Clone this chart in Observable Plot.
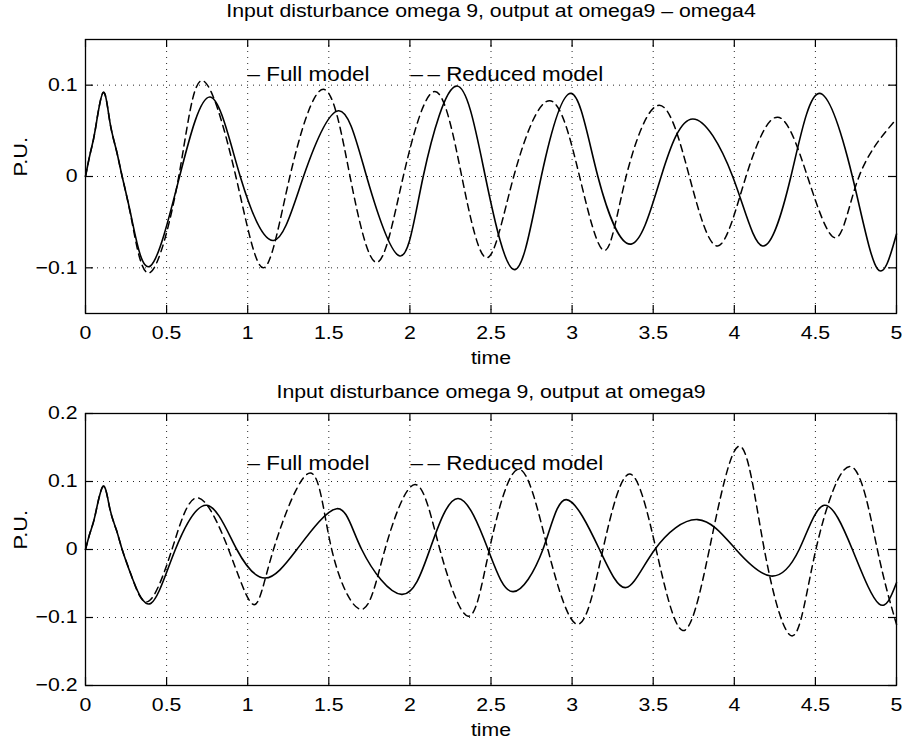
<!DOCTYPE html>
<html>
<head>
<meta charset="utf-8">
<script src="https://cdn.jsdelivr.net/npm/d3@7"></script>
<script src="https://cdn.jsdelivr.net/npm/@observablehq/plot@0.6"></script>
<style>
  html, body { margin: 0; padding: 0; background: #fff; }
  #wrap { width: 902px; height: 740px; position: relative; overflow: hidden; }
  #wrap svg { display: block; }
</style>
</head>
<body>
<div id="wrap"></div>
<script>
// ---------- data ----------
const titleTop = "Input disturbance omega 9, output at omega9 \u2013 omega4";
const titleBottom = "Input disturbance omega 9, output at omega9";
const xLabel = "time";
const yLabel = "P.U.";
const legendFull = "\u2013 Full model";
const legendReduced = "\u2013\u2009\u2013 Reduced model";

const xTicks = [0, 0.5, 1, 1.5, 2, 2.5, 3, 3.5, 4, 4.5, 5];
const yTicksTop = [-0.1, 0, 0.1];
const yTicksBottom = [-0.2, -0.1, 0, 0.1, 0.2];

// top panel: output at omega9 - omega4
const topFullT = [0, 0.03, 0.06, 0.109, 0.15, 0.19, 0.226, 0.287, 0.40, 0.58, 0.769, 0.954, 1.159, 1.344, 1.559, 1.733, 1.938, 2.082, 2.287, 2.465, 2.646, 2.81, 2.995, 3.159, 3.364, 3.549, 3.744, 3.99, 4.174, 4.349, 4.523, 4.728, 4.882, 5.0];
const topFullY = [0, 0.026, 0.051, 0.092, 0.060, 0.029, 0, -0.048, -0.098, 0, 0.087, 0, -0.070, 0, 0.072, 0, -0.087, 0, 0.099, 0, -0.102, 0, 0.091, 0, -0.074, 0, 0.063, 0, -0.076, 0, 0.091, 0, -0.101, -0.063];
const topRedT = [0, 0.03, 0.06, 0.109, 0.15, 0.19, 0.226, 0.287, 0.40, 0.575, 0.718, 0.927, 1.097, 1.26, 1.467, 1.631, 1.795, 1.959, 2.154, 2.32, 2.475, 2.64, 2.862, 3.046, 3.2, 3.333, 3.538, 3.723, 3.897, 4.072, 4.267, 4.451, 4.626, 4.769, 5.0];
const topRedY = [0, 0.026, 0.051, 0.092, 0.060, 0.029, 0, -0.050, -0.105, 0, 0.105, 0, -0.100, 0, 0.0955, 0, -0.094, 0, 0.093, 0, -0.089, 0, 0.083, 0, -0.081, 0, 0.078, 0, -0.076, 0, 0.065, 0, -0.067, 0, 0.063];

// bottom panel: output at omega9
const botFullT = [0, 0.03, 0.06, 0.109, 0.15, 0.19, 0.226, 0.29, 0.404, 0.554, 0.749, 0.933, 1.108, 1.303, 1.549, 1.703, 1.949, 2.123, 2.297, 2.482, 2.636, 2.82, 2.964, 3.169, 3.333, 3.51, 3.774, 4.01, 4.226, 4.40, 4.554, 4.728, 4.892, 5.0];
const botFullY = [0, 0.026, 0.051, 0.093, 0.060, 0.029, 0, -0.043, -0.079, 0, 0.065, 0, -0.042, 0, 0.060, 0, -0.066, 0, 0.075, 0, -0.062, 0, 0.0734, 0, -0.056, 0, 0.044, 0, -0.039, 0, 0.065, 0, -0.080, -0.049];
const botRedT = [0, 0.03, 0.06, 0.109, 0.15, 0.19, 0.226, 0.29, 0.39, 0.533, 0.687, 0.882, 1.036, 1.159, 1.385, 1.518, 1.703, 1.846, 2.031, 2.185, 2.359, 2.49, 2.67, 2.851, 3.036, 3.19, 3.354, 3.518, 3.682, 3.846, 4.031, 4.185, 4.359, 4.503, 4.718, 4.882, 5.0];
const botRedY = [0, 0.026, 0.051, 0.093, 0.060, 0.029, 0, -0.043, -0.076, 0, 0.076, 0, -0.081, 0, 0.1125, 0, -0.088, 0, 0.0955, 0, -0.098, 0, 0.118, 0, -0.110, 0, 0.111, 0, -0.119, 0, 0.152, 0, -0.127, 0, 0.122, 0, -0.110];

// ---------- drawing ----------
const FONT = "'Liberation Sans', Arial, Helvetica, sans-serif";
const rows = (T, Y) => T.map((t, i) => ({t, v: Y[i]}));
const fmt = d => d < 0 ? "\u2212" + String(Math.abs(d)) : String(d);

function panel({title, yDomain, yTicks, full, red, marginTop, marginBottom, titleDy, legendDy}) {
  const W = 902, H = 370, mL = 85, mR = 6;
  const fw = W - mL - mR, fh = H - marginTop - marginBottom, tk = 8;
  const grid = {stroke: "black", strokeWidth: 1, strokeDasharray: "1,5", strokeOpacity: 0.85};
  const tick = {stroke: "black", strokeWidth: 1.2};
  const txt = {text: d => d, lineAnchor: "middle"};
  const svg = Plot.plot({
    width: W, height: H,
    marginTop, marginBottom, marginLeft: mL, marginRight: mR,
    style: {fontSize: "18.5px", fontFamily: FONT, background: "white", color: "black", overflow: "visible"},
    x: {domain: [0, 5], ticks: xTicks, tickSize: 0, tickPadding: 12.5, tickFormat: fmt, label: null},
    y: {domain: yDomain, ticks: yTicks, tickSize: 0, tickPadding: 8, tickFormat: fmt, label: null},
    marks: [
      Plot.ruleX(xTicks, {x: d => d, ...grid}),
      Plot.ruleY(yTicks, {y: d => d, ...grid}),
      Plot.ruleX(xTicks, {x: d => d, insetTop: fh - tk, ...tick}),
      Plot.ruleX(xTicks, {x: d => d, insetBottom: fh - tk, ...tick}),
      Plot.ruleY(yTicks, {y: d => d, insetRight: fw - tk, ...tick}),
      Plot.ruleY(yTicks, {y: d => d, insetLeft: fw - tk, ...tick}),
      Plot.line(full, {x: "t", y: "v", curve: "natural", stroke: "black", strokeWidth: 1.6}),
      Plot.line(red, {x: "t", y: "v", curve: "natural", stroke: "black", strokeWidth: 1.5, strokeDasharray: "7,5"}),
      Plot.frame({stroke: "black", strokeWidth: 1.3}),
      Plot.text([title], {...txt, frameAnchor: "top", dy: titleDy, fontSize: 18.5}),
      Plot.text([xLabel], {...txt, frameAnchor: "bottom", dy: 44.5, fontSize: 18.5}),
      Plot.text([yLabel], {...txt, frameAnchor: "left", dx: -65, rotate: -90, fontSize: 19}),
      Plot.text([legendFull], {...txt, frameAnchor: "top-left", textAnchor: "start", dx: 162, dy: legendDy, fontSize: 19.5}),
      Plot.text([legendReduced], {...txt, frameAnchor: "top-left", textAnchor: "start", dx: 325, dy: legendDy, fontSize: 19.5})
    ]
  });
  // the reference lettering is horizontally wide: stretch every label about its anchor
  svg.querySelectorAll("text").forEach(t => {
    const tr = t.getAttribute("transform");
    t.setAttribute("transform", (tr ? tr + " " : "") + "scale(1.15,1)");
  });
  return svg;
}

const wrap = document.getElementById("wrap");
wrap.appendChild(panel({
  title: titleTop, yDomain: [-0.15, 0.15], yTicks: yTicksTop,
  full: rows(topFullT, topFullY), red: rows(topRedT, topRedY),
  marginTop: 39, marginBottom: 57, titleDy: -28.9, legendDy: 35.5
}));
wrap.appendChild(panel({
  title: titleBottom, yDomain: [-0.2, 0.2], yTicks: yTicksBottom,
  full: rows(botFullT, botFullY), red: rows(botRedT, botRedY),
  marginTop: 43, marginBottom: 55, titleDy: -21.6, legendDy: 50
}));
</script>
</body>
</html>
